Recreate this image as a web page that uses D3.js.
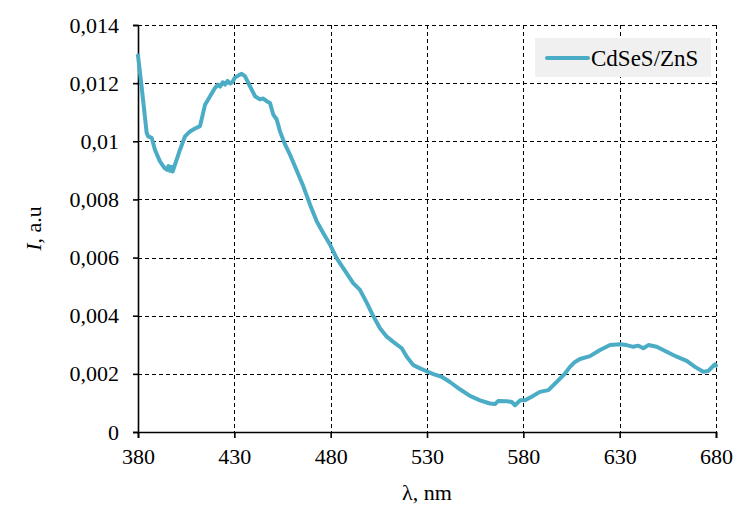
<!DOCTYPE html>
<html>
<head>
<meta charset="utf-8">
<script src="https://cdn.jsdelivr.net/npm/d3@7"></script>
<style>
  html, body { margin: 0; padding: 0; background: #fff; }
  svg { display: block; font-family: "Liberation Serif", "Times New Roman", serif; }
</style>
</head>
<body>
<svg id="chart" width="735" height="505"></svg>
<script>
// Photoluminescence spectrum of CdSeS/ZnS quantum dots
const wavelength = [
  380, 382, 384.5, 385.3, 387.1, 388.8, 390, 391.4, 393, 393.8, 395, 395.8, 396.6, 397.4, 398, 399.2,
  401.8, 404.4, 407, 409.6, 412.2, 414.8, 417.4, 420, 421.5, 422.6, 424, 425.2, 426.5, 427.8, 429, 430.3,
  432, 433.8, 435.5, 438.1, 440.7, 443.3, 445, 446.8, 448.5, 450.2, 452, 453.7, 456.3,
  458.9, 461.5, 465.8, 469.3, 472.8, 476.2, 479.7, 483.1, 486.6, 491.7, 495.2,
  498.7, 502.1, 505.6, 509.1, 512.5, 516.9, 519.5, 522.9, 526.4, 529.8, 533.3,
  537.6, 541.9, 547.1, 552.3, 557.5, 562.7, 565.3, 567, 571.4, 574, 575.7, 578.3,
  580.9, 584.3, 588.6, 593, 597.3, 601.6, 604.2, 606.8, 609.4, 614.6, 619.8,
  625, 630.2, 633.6, 637.1, 639.7, 642.3, 644.9, 649.2, 654.4, 659.6, 664.8,
  669.1, 673.4, 676, 679.5, 680
];
const intensity = [
  0.01295, 0.01180, 0.01029, 0.01017, 0.01012, 0.00971, 0.00952, 0.00931, 0.00915, 0.00908,
  0.00902, 0.00915, 0.00898, 0.00912, 0.00896, 0.00920,
  0.00971, 0.01017, 0.01034, 0.01044, 0.01052, 0.01126, 0.01155, 0.01184, 0.01195, 0.01188,
  0.01203, 0.01195, 0.01208, 0.01199, 0.01204, 0.01219,
  0.01226, 0.01232, 0.01224, 0.01190, 0.01155, 0.01144, 0.01147, 0.01138,
  0.01132, 0.01092, 0.01075, 0.01034, 0.00989, 0.00954, 0.00913, 0.00845, 0.00782,
  0.00724, 0.00684, 0.00644, 0.00598, 0.00563, 0.00512, 0.00489, 0.00445, 0.00399,
  0.00357, 0.00328, 0.00310, 0.00288, 0.00259, 0.00230, 0.00219, 0.00209, 0.00199,
  0.00190, 0.00172, 0.00147, 0.00124, 0.00109, 0.00098, 0.00096, 0.00107, 0.00106,
  0.00103, 0.00092, 0.00109, 0.00109, 0.00121, 0.00138, 0.00144, 0.00172, 0.00201,
  0.00224, 0.00241, 0.00251, 0.00261, 0.00282, 0.00299, 0.00302, 0.00299, 0.00293,
  0.00297, 0.00288, 0.00299, 0.00293, 0.00276, 0.00259, 0.00245, 0.00224, 0.00207,
  0.00210, 0.00233, 0.00228
];
const xTicks = [380, 430, 480, 530, 580, 630, 680];
const yTicks = [0, 0.002, 0.004, 0.006, 0.008, 0.01, 0.012, 0.014];
const seriesName = "CdSeS/ZnS";
const lineColor = "#4bacc6";

const svg = d3.select("#chart");
const W = 735, H = 505;
const margin = { left: 138, right: 19, top: 25, bottom: 73 };
const iw = W - margin.left - margin.right;
const ih = H - margin.top - margin.bottom;

const x = d3.scaleLinear().domain([380, 680]).range([margin.left, margin.left + iw]);
const y = d3.scaleLinear().domain([0, 0.014]).range([margin.top + ih, margin.top]);

const fmt = v => (v === 0 ? "0" : String(+v.toFixed(3)).replace(".", ","));

// dashed grid
const grid = svg.append("g").attr("stroke", "#000").attr("stroke-width", 1)
  .attr("stroke-dasharray", "4,3");
grid.selectAll("line.v").data(xTicks.slice(1)).join("line")
  .attr("x1", d => Math.round(x(d)) + 0.5).attr("x2", d => Math.round(x(d)) + 0.5)
  .attr("y1", y(0.014)).attr("y2", y(0));
grid.selectAll("line.h").data(yTicks.slice(1)).join("line")
  .attr("x1", x(380)).attr("x2", x(680))
  .attr("y1", d => Math.round(y(d)) + 0.5).attr("y2", d => Math.round(y(d)) + 0.5);

// axes
const xAxis = svg.append("g").attr("transform", `translate(0,${y(0)})`)
  .call(d3.axisBottom(x).tickValues(xTicks).tickSize(6).tickPadding(10).tickFormat(d3.format("d")));
const yAxis = svg.append("g").attr("transform", `translate(${x(380)},0)`)
  .call(d3.axisLeft(y).tickValues(yTicks).tickSize(5).tickPadding(14).tickFormat(fmt));
[xAxis, yAxis].forEach(a => {
  a.select(".domain").attr("stroke", "#000").attr("stroke-width", 1.6);
  a.selectAll(".tick line").attr("stroke", "#000").attr("stroke-width", 1.6);
  a.selectAll(".tick text").attr("fill", "#000")
    .style("font-family", "'Liberation Serif', 'Times New Roman', serif").style("font-size", "22px");
});

// spectrum line
const pts = wavelength.map((w, i) => [w, intensity[i]]);
svg.append("path").datum(pts)
  .attr("fill", "none").attr("stroke", lineColor).attr("stroke-width", 4)
  .attr("stroke-linejoin", "round").attr("stroke-linecap", "round")
  .attr("d", d3.line().x(d => x(d[0])).y(d => y(d[1])));

// axis titles
svg.append("text").attr("x", x(530)).attr("y", 500).attr("text-anchor", "middle")
  .style("font-size", "22px").text("λ, nm");
const yl = svg.append("text").attr("transform", `translate(41,${y(0.007)}) rotate(-90)`)
  .attr("text-anchor", "middle").style("font-size", "22px");
yl.append("tspan").style("font-style", "italic").text("I");
yl.append("tspan").text(", a.u");

// legend
const lg = svg.append("g");
lg.append("rect").attr("x", 535).attr("y", 38).attr("width", 176).attr("height", 39).attr("fill", "#f0f0f0");
lg.append("line").attr("x1", 547).attr("x2", 588).attr("y1", 58).attr("y2", 58)
  .attr("stroke", lineColor).attr("stroke-width", 4).attr("stroke-linecap", "round");
lg.append("text").attr("x", 591).attr("y", 66).style("font-size", "23px").text(seriesName);
</script>
</body>
</html>
